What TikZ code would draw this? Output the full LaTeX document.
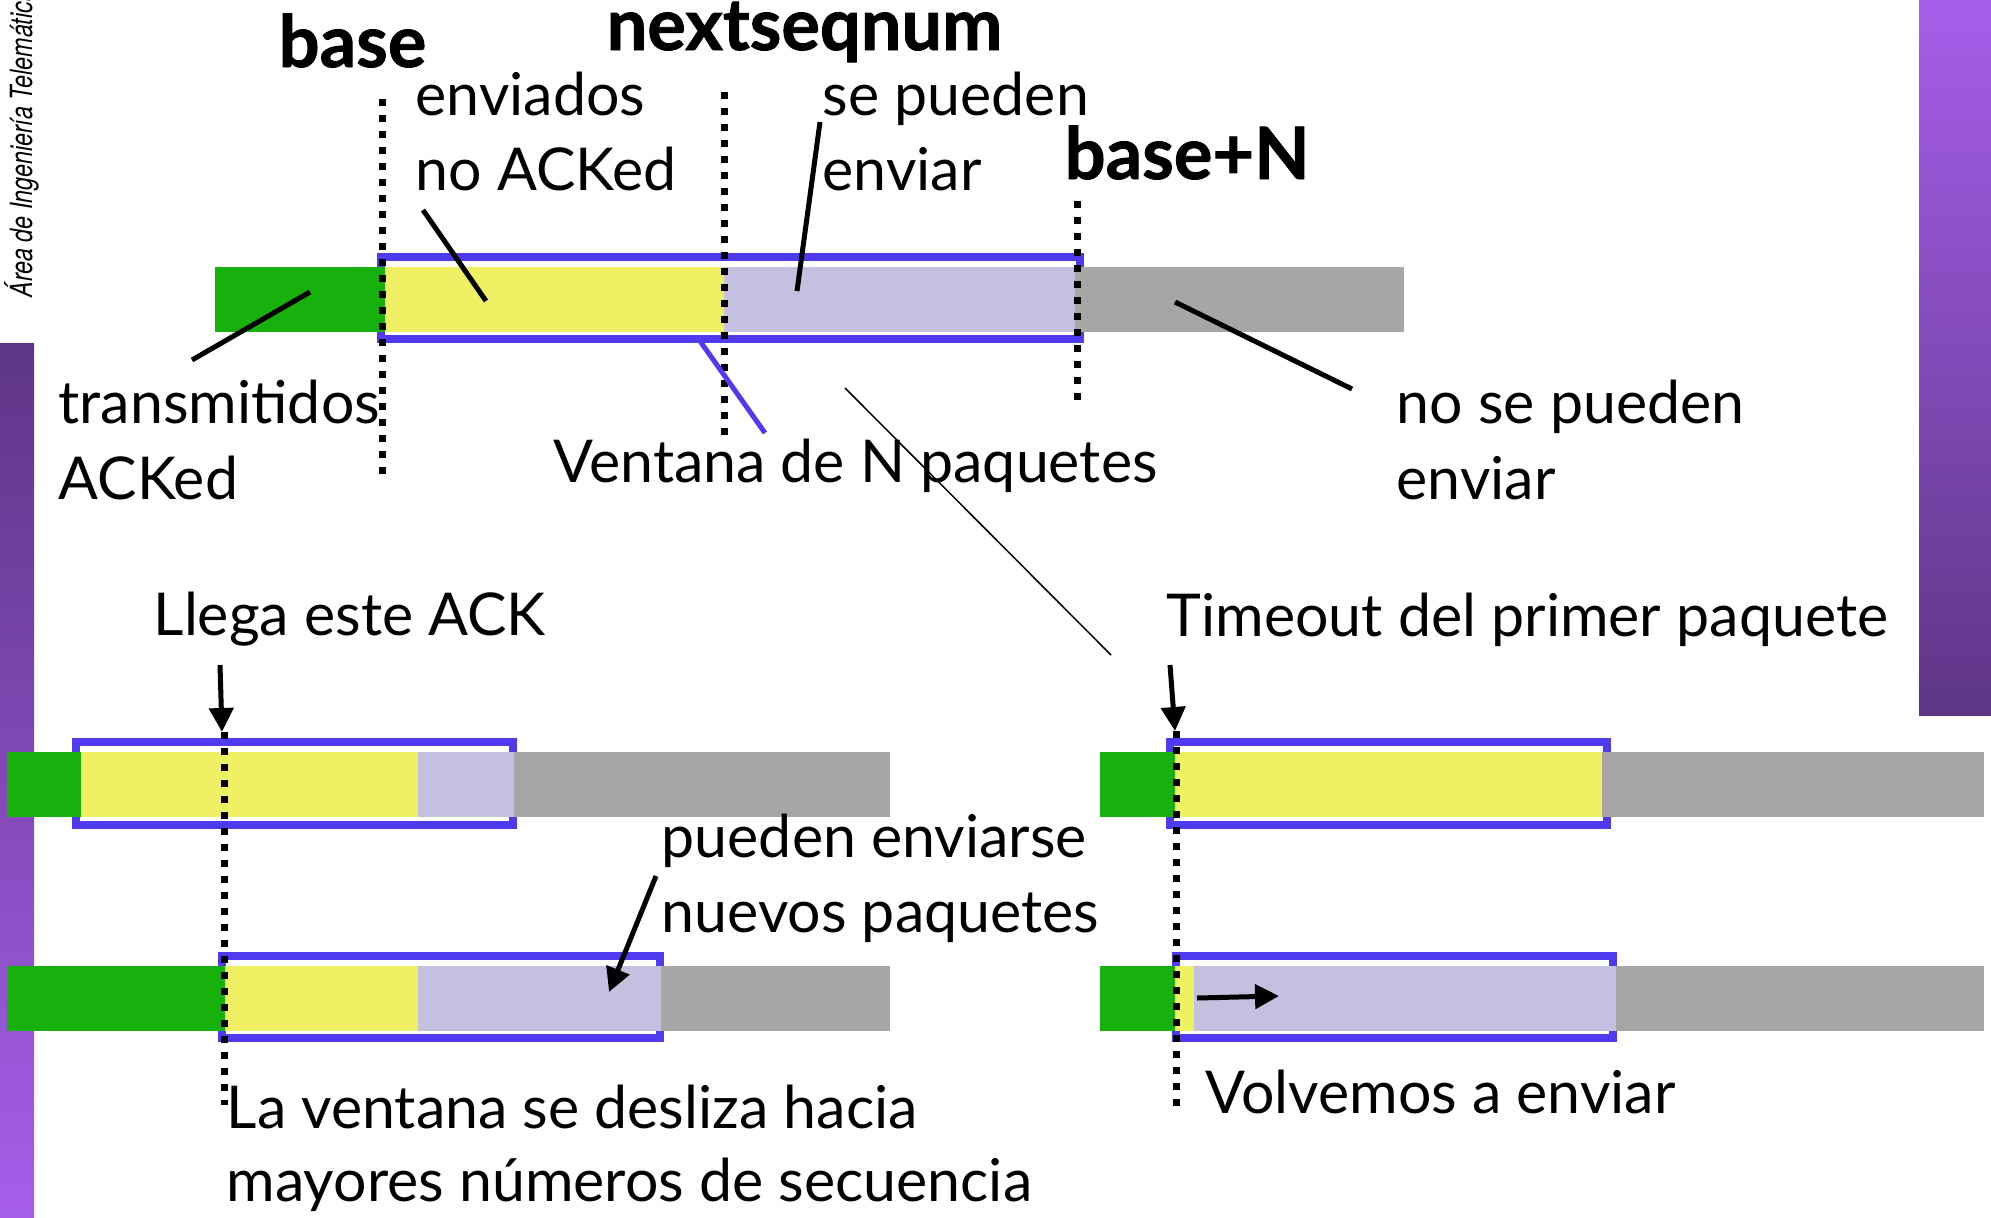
\documentclass[tikz,border=0pt]{standalone}
\usepackage{fontspec}
\setmainfont{Lato}
\newfontfamily\heavyfont[BoldFeatures={FakeBold=1.2}]{Lato}
\newfontfamily\sidefont[FakeStretch=0.76]{TeX Gyre Heros}
\usetikzlibrary{arrows.meta}

\definecolor{ackgreen}{RGB}{24,176,12}
\definecolor{sentyellow}{RGB}{240,240,100}
\definecolor{freelav}{RGB}{195,192,224}
\definecolor{outgray}{RGB}{166,166,166}
\definecolor{winblue}{RGB}{79,58,237}
\definecolor{purplelight}{RGB}{166,94,234}
\definecolor{purpledark}{RGB}{94,53,134}

\tikzset{
	window/.style={draw=winblue, line width=0.75mm},
	seqmark/.style={line width=0.7mm, dash pattern=on 0.7mm off 0.9mm},
	pointer/.style={line width=0.5mm},
	ackarrow/.style={line width=0.5mm, -{Triangle[length=2.4mm,width=2.4mm]}},
	lbl/.style={inner sep=0pt, anchor=base west, font=\fontsize{16.8}{20}\selectfont},
	boldlbl/.style={lbl, text height=1.6ex, font=\heavyfont\fontsize{20.5}{24}\selectfont\bfseries},
}

\begin{document}
\begin{tikzpicture}[x=0.1mm, y=-0.1mm]
	
	\useasboundingbox (0,0) rectangle (1991,1217);
	
	% side bars of the slide
	\shade[top color=purpledark, bottom color=purplelight] (0,343) rectangle (34,1217);
	\shade[top color=purplelight, bottom color=purpledark] (1919,0) rectangle (1991,715);
	\node[inner sep=0pt, anchor=base west, rotate=90, font=\sidefont\fontsize{8.7}{10}\selectfont\itshape] (area) at (32,298) {Área de Ingeniería Telemática};
	
	% top sequence
	\draw[window] (381,257) rectangle (1080,339);
	\fill[ackgreen] (215,267) rectangle (385,332);
	\fill[sentyellow] (385,267) rectangle (724,332);
	\fill[freelav] (724,267) rectangle (1075,332);
	\fill[outgray] (1075,267) rectangle (1404,332);
	
	\draw[seqmark] (382,99) -- (382,475);
	\draw[seqmark] (724,92) -- (724,435);
	\draw[seqmark] (1077,201) -- (1077,400);
	
	\node[boldlbl] (base) at (278,67) {base};
	\node[boldlbl] (nextseq) at (606,50) {nextseqnum};
	\node[boldlbl] (baseN) at (1064,179) {base+N};
	
	\node[lbl] (env1) at (415,115) {enviados};
	\node[lbl] (env2) at (415,190) {no ACKed};
	\node[lbl] (pue1) at (822,115) {se pueden};
	\node[lbl] (pue2) at (822,190) {enviar};
	\node[lbl] (trans1) at (58,423) {transmitidos};
	\node[lbl] (trans2) at (58,499) {ACKed};
	\node[lbl] (vent) at (553,482) {Ventana de N paquetes};
	\node[lbl] (nop1) at (1396,423) {no se pueden};
	\node[lbl] (nop2) at (1396,499) {enviar};
	
	% pointers to the parts of the sequence
	\coordinate (trA) at (192,360);
	\coordinate (trB) at (310,292);
	\coordinate (envA) at (423,210);
	\coordinate (envB) at (486,301);
	\coordinate (pueA) at (820,122);
	\coordinate (pueB) at (797,291);
	\coordinate (nopA) at (1175,302);
	\coordinate (nopB) at (1352,389);
	\coordinate (ventA) at (700,341);
	\coordinate (ventB) at (765,433);
	\draw[pointer] (trA) -- (trB);
	\draw[pointer] (envA) -- (envB);
	\draw[pointer] (pueA) -- (pueB);
	\draw[pointer] (nopA) -- (nopB);
	\draw[pointer, winblue] (ventA) -- (ventB);
	
	% thin separator
	\coordinate (sepA) at (845,388);
	\coordinate (sepB) at (1111,655);
	\draw[line width=0.15mm] (sepA) -- (sepB);
	
	% left case: ACK arrives
	\draw[window] (76,742) rectangle (513,825);
	\fill[ackgreen] (7,752) rectangle (81,817);
	\fill[sentyellow] (81,752) rectangle (418,817);
	\fill[freelav] (418,752) rectangle (514,817);
	\fill[outgray] (514,752) rectangle (890,817);
	
	\draw[window] (222,956) rectangle (660,1038);
	\fill[ackgreen] (7,966) rectangle (225,1031);
	\fill[sentyellow] (225,966) rectangle (418,1031);
	\fill[freelav] (418,966) rectangle (661,1031);
	\fill[outgray] (661,966) rectangle (890,1031);
	
	\draw[seqmark] (224,732) -- (224,1105);
	
	\node[lbl] (llega) at (153,635) {Llega este ACK};
	\node[lbl] (nuev1) at (661,857) {pueden enviarse};
	\node[lbl] (nuev2) at (661,932) {nuevos paquetes};
	\node[lbl] (desl1) at (226,1128) {La ventana se desliza hacia};
	\node[lbl] (desl2) at (226,1201) {mayores números de secuencia};
	
	\coordinate (ackA) at (220,665);
	\coordinate (ackB) at (222,732);
	\coordinate (nuevA) at (656,876);
	\coordinate (nuevB) at (609,992);
	\draw[ackarrow] (ackA) -- (ackB);
	\draw[ackarrow] (nuevA) -- (nuevB);
	
	% right case: timeout
	\draw[window] (1170,742) rectangle (1607,825);
	\fill[ackgreen] (1100,752) rectangle (1175,817);
	\fill[sentyellow] (1175,752) rectangle (1602,817);
	\fill[outgray] (1602,752) rectangle (1984,817);
	
	\draw[window] (1176,956) rectangle (1613,1038);
	\fill[ackgreen] (1100,966) rectangle (1175,1031);
	\fill[sentyellow] (1175,966) rectangle (1194,1031);
	\fill[freelav] (1194,966) rectangle (1616,1031);
	\fill[outgray] (1616,966) rectangle (1984,1031);
	
	\draw[seqmark] (1176,731) -- (1176,1106);
	
	\node[lbl] (tout) at (1166,636) {Timeout del primer paquete};
	\node[lbl] (volv) at (1205,1113) {Volvemos a enviar};
	
	\coordinate (toutA) at (1170,665);
	\coordinate (toutB) at (1175,731);
	\coordinate (volvA) at (1197,998);
	\coordinate (volvB) at (1279,996);
	\draw[ackarrow] (toutA) -- (toutB);
	\draw[ackarrow] (volvA) -- (volvB);
	
\end{tikzpicture}
\end{document}
